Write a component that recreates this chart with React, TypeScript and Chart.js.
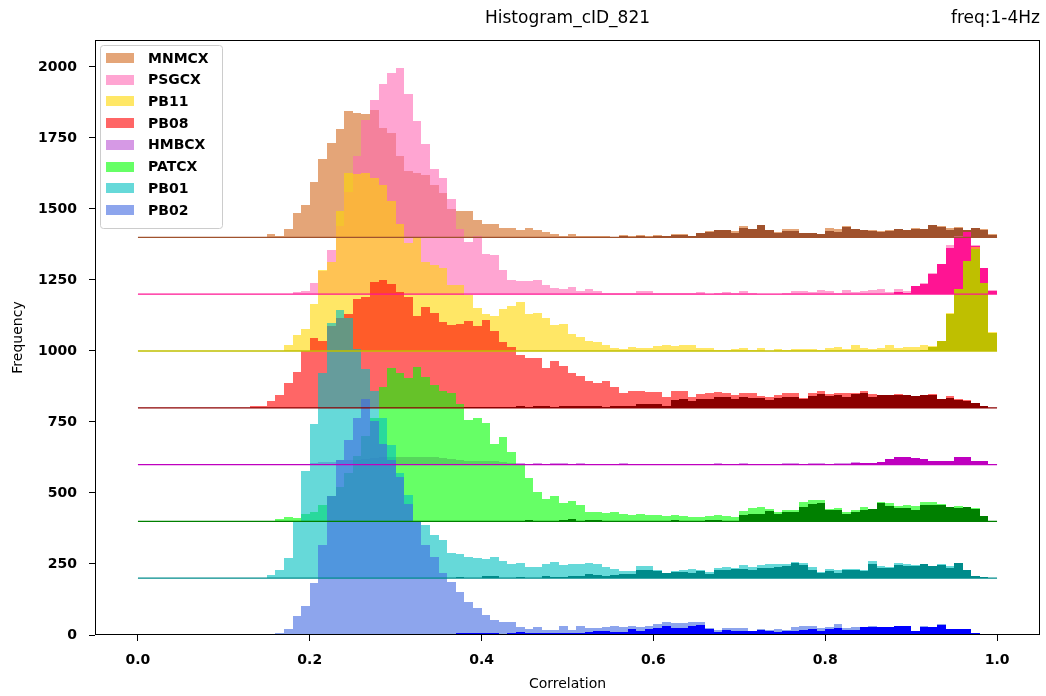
import React, { useEffect, useRef } from "react";
import { Chart, registerables } from "chart.js";

Chart.register(...registerables);

const TITLE = "Histogram_cID_821";
const SUBTITLE = "freq:1-4Hz";
const X_LABEL = "Correlation";
const Y_LABEL = "Frequency";
const BIN_WIDTH = 0.01;
const X_TICKS = [0, 0.2, 0.4, 0.6, 0.8, 1.0];
const Y_TICKS = [0, 250, 500, 750, 1000, 1250, 1500, 1750, 2000];

const NAMES = ["MNMCX", "PSGCX", "PB11", "PB08", "HMBCX", "PATCX", "PB01", "PB02"];
const OFFSETS = [1400, 1200, 1000, 800, 600, 400, 200, 0];
const LIGHT_COLORS = [
  "rgba(210,105,30,0.6)",
  "rgba(255,105,180,0.6)",
  "rgba(255,215,0,0.6)",
  "rgba(255,0,0,0.6)",
  "rgba(186,85,211,0.6)",
  "rgba(0,255,0,0.6)",
  "rgba(0,191,191,0.6)",
  "rgba(65,105,225,0.6)",
];
const DARK_COLORS = ["#a0522d", "#ff1493", "#bfbf00", "#8b0000", "#bf00bf", "#008000", "#008b8b", "#0000ff"];

// counts per 0.01 bin (0.00 .. 0.99)
const MNMCX_LIGHT = [
  0, 0, 0, 0, 0, 0, 0, 0, 0, 0,
  0, 0, 0, 0, 0, 12, 5, 29, 86, 114,
  195, 276, 332, 381, 445, 438, 434, 450, 385, 367,
  286, 234, 228, 219, 184, 156, 100, 93, 93, 61,
  47, 47, 33, 33, 26, 33, 26, 19, 12, 5,
  12, 5, 5, 5, 5, 0, 8, 5, 8, 5,
  8, 6, 13, 12, 6, 15, 22, 26, 26, 22,
  40, 29, 43, 26, 19, 29, 29, 16, 15, 12,
  33, 29, 40, 29, 26, 26, 22, 26, 29, 26,
  33, 29, 43, 40, 33, 36, 26, 33, 29, 12,
];
const MNMCX_DARK = [
  0, 0, 0, 0, 0, 0, 0, 0, 0, 0,
  0, 0, 0, 0, 0, 0, 0, 0, 0, 0,
  0, 0, 0, 0, 0, 0, 0, 0, 0, 0,
  0, 0, 0, 0, 0, 0, 0, 0, 0, 0,
  0, 0, 0, 0, 0, 0, 0, 0, 0, 0,
  0, 0, 0, 0, 0, 0, 5, 3, 5, 2,
  5, 6, 9, 10, 6, 15, 20, 26, 26, 16,
  33, 29, 42, 26, 16, 21, 21, 16, 15, 12,
  23, 20, 38, 28, 26, 23, 20, 23, 29, 26,
  28, 29, 43, 38, 26, 33, 26, 33, 26, 9,
];
const PSGCX_LIGHT = [
  0, 0, 0, 0, 0, 0, 0, 0, 0, 0,
  0, 0, 0, 0, 0, 0, 0, 0, 7, 12,
  39, 80, 155, 241, 360, 486, 613, 684, 740, 779,
  796, 705, 610, 529, 441, 409, 335, 230, 184, 205,
  141, 139, 86, 50, 47, 47, 50, 33, 22, 19,
  26, 12, 19, 12, 5, 5, 5, 5, 12, 11,
  4, 4, 4, 4, 4, 8, 0, 4, 8, 4,
  11, 4, 0, 0, 0, 4, 11, 11, 8, 15,
  11, 4, 15, 8, 11, 15, 18, 8, 18, 11,
  29, 39, 75, 106, 173, 205, 219, 173, 92, 15,
];
const PSGCX_DARK = [
  0, 0, 0, 0, 0, 0, 0, 0, 0, 0,
  0, 0, 0, 0, 0, 0, 0, 0, 0, 0,
  0, 0, 0, 0, 0, 0, 0, 0, 0, 0,
  0, 0, 0, 0, 0, 0, 0, 0, 0, 0,
  0, 0, 0, 0, 0, 0, 0, 0, 0, 0,
  0, 0, 0, 0, 0, 0, 0, 0, 0, 0,
  0, 0, 0, 0, 0, 0, 0, 0, 0, 0,
  0, 0, 0, 0, 0, 0, 0, 0, 0, 0,
  0, 0, 0, 0, 0, 0, 0, 0, 8, 4,
  29, 36, 71, 106, 163, 201, 219, 170, 92, 11,
];
const PB11_LIGHT = [
  0, 0, 0, 0, 0, 0, 0, 0, 0, 0,
  0, 0, 0, 0, 0, 0, 0, 21, 56, 77,
  166, 285, 314, 493, 626, 622, 626, 609, 584, 528,
  447, 380, 400, 314, 303, 292, 232, 232, 197, 151,
  130, 123, 148, 158, 172, 130, 134, 116, 92, 95,
  60, 49, 35, 32, 21, 11, 7, 14, 11, 11,
  18, 21, 18, 21, 21, 11, 11, 4, 4, 7,
  11, 4, 11, 0, 7, 4, 7, 7, 7, 4,
  11, 14, 7, 21, 11, 7, 11, 21, 11, 14,
  14, 21, 18, 35, 133, 218, 317, 367, 240, 66,
];
const PB11_DARK = [
  0, 0, 0, 0, 0, 0, 0, 0, 0, 0,
  0, 0, 0, 0, 0, 0, 0, 0, 0, 0,
  0, 0, 0, 0, 0, 0, 0, 0, 0, 0,
  0, 0, 0, 0, 0, 0, 0, 0, 0, 0,
  0, 0, 0, 0, 0, 0, 0, 0, 0, 0,
  0, 0, 0, 0, 0, 0, 0, 0, 0, 0,
  0, 0, 0, 0, 0, 0, 0, 0, 0, 0,
  0, 0, 0, 0, 0, 0, 0, 0, 0, 0,
  0, 0, 0, 0, 0, 0, 0, 0, 0, 0,
  0, 4, 14, 35, 131, 218, 317, 360, 240, 63,
];
const PB08_LIGHT = [
  0, 0, 0, 0, 0, 0, 0, 0, 0, 0,
  0, 0, 0, 6, 6, 23, 45, 87, 126, 200,
  245, 235, 288, 315, 330, 383, 390, 442, 450, 436,
  408, 390, 323, 355, 333, 302, 291, 295, 305, 288,
  309, 270, 231, 214, 185, 175, 175, 140, 164, 147,
  122, 112, 94, 87, 94, 73, 52, 59, 59, 55,
  55, 38, 59, 59, 38, 48, 52, 55, 52, 45,
  52, 52, 41, 38, 45, 52, 52, 34, 52, 59,
  48, 52, 52, 52, 59, 48, 45, 45, 48, 45,
  41, 45, 48, 31, 41, 31, 27, 16, 6, 1,
];
const PB08_DARK = [
  0, 0, 0, 0, 0, 0, 0, 0, 0, 0,
  0, 0, 0, 0, 0, 0, 0, 0, 0, 0,
  0, 0, 0, 0, 0, 0, 0, 0, 0, 0,
  0, 0, 0, 0, 0, 0, 0, 0, 3, 3,
  3, 3, 3, 3, 5, 3, 5, 8, 3, 5,
  8, 5, 5, 5, 3, 5, 5, 8, 12, 13,
  13, 6, 27, 31, 23, 31, 31, 38, 38, 31,
  38, 34, 34, 27, 34, 38, 38, 31, 41, 48,
  41, 45, 38, 48, 52, 38, 45, 45, 45, 45,
  41, 45, 45, 31, 34, 28, 23, 16, 6, 1,
];
const HMBCX_LIGHT = [
  0, 0, 0, 0, 0, 0, 0, 0, 0, 0,
  0, 0, 0, 0, 0, 0, 0, 0, 0, 0,
  5, 8, 10, 15, 17, 17, 20, 22, 25, 28,
  28, 27, 28, 28, 26, 22, 18, 15, 13, 13,
  12, 12, 10, 6, 4, 2, 4, 2, 4, 4,
  2, 4, 2, 2, 2, 2, 4, 2, 2, 2,
  2, 0, 2, 2, 0, 2, 0, 4, 0, 2,
  4, 2, 0, 2, 0, 4, 4, 2, 4, 7,
  2, 4, 5, 9, 6, 6, 9, 20, 27, 27,
  23, 20, 13, 13, 13, 27, 27, 13, 13, 2,
];
const HMBCX_DARK = [
  0, 0, 0, 0, 0, 0, 0, 0, 0, 0,
  0, 0, 0, 0, 0, 0, 0, 0, 0, 0,
  0, 0, 0, 0, 0, 0, 0, 0, 0, 0,
  0, 0, 0, 0, 0, 0, 0, 0, 0, 0,
  0, 0, 0, 0, 0, 0, 0, 0, 0, 0,
  0, 0, 0, 0, 0, 0, 0, 0, 0, 0,
  0, 0, 0, 0, 0, 0, 0, 0, 0, 0,
  0, 0, 0, 0, 0, 0, 0, 2, 0, 2,
  2, 0, 0, 5, 4, 6, 9, 20, 27, 27,
  23, 20, 13, 13, 13, 27, 27, 13, 13, 2,
];
const PATCX_LIGHT = [
  0, 0, 0, 0, 0, 0, 0, 0, 0, 0,
  0, 0, 0, 0, 0, 0, 8, 15, 12, 26,
  33, 58, 89, 120, 170, 230, 300, 364, 473, 540,
  522, 505, 544, 509, 480, 459, 452, 413, 357, 364,
  346, 272, 297, 244, 198, 153, 103, 79, 89, 65,
  72, 58, 33, 33, 29, 33, 26, 22, 26, 22,
  22, 19, 22, 19, 15, 15, 19, 22, 19, 15,
  36, 47, 50, 43, 33, 40, 40, 68, 75, 75,
  43, 47, 33, 40, 50, 43, 68, 65, 54, 57,
  54, 68, 68, 61, 50, 54, 50, 47, 19, 1,
];
const PATCX_DARK = [
  0, 0, 0, 0, 0, 0, 0, 0, 0, 0,
  0, 0, 0, 0, 0, 0, 0, 0, 0, 0,
  0, 0, 0, 0, 0, 0, 0, 0, 0, 0,
  0, 0, 0, 0, 0, 0, 0, 0, 0, 0,
  0, 0, 0, 0, 0, 5, 0, 0, 0, 5,
  8, 0, 5, 5, 0, 0, 0, 0, 0, 0,
  0, 0, 5, 0, 0, 0, 4, 5, 3, 3,
  22, 26, 26, 36, 26, 33, 33, 50, 61, 65,
  40, 40, 26, 33, 40, 43, 65, 54, 47, 47,
  40, 57, 57, 57, 50, 47, 50, 43, 19, 1,
];
const PB01_LIGHT = [
  0, 0, 0, 0, 0, 0, 0, 0, 0, 0,
  0, 0, 0, 0, 0, 12, 29, 72, 197, 378,
  543, 723, 900, 944, 915, 807, 738, 659, 565, 470,
  370, 293, 200, 188, 153, 135, 89, 86, 75, 72,
  68, 75, 61, 50, 54, 40, 40, 50, 58, 47,
  50, 50, 54, 50, 40, 33, 26, 26, 43, 43,
  29, 18, 26, 29, 33, 29, 22, 36, 40, 36,
  47, 40, 47, 50, 50, 50, 58, 54, 40, 22,
  33, 29, 33, 33, 29, 61, 43, 40, 54, 50,
  47, 50, 43, 50, 43, 54, 29, 8, 5, 1,
];
const PB01_DARK = [
  0, 0, 0, 0, 0, 0, 0, 0, 0, 0,
  0, 0, 0, 0, 0, 0, 0, 0, 0, 0,
  0, 0, 0, 0, 0, 0, 0, 0, 0, 0,
  0, 0, 0, 0, 0, 0, 0, 5, 0, 0,
  8, 8, 0, 0, 5, 0, 0, 8, 4, 4,
  8, 8, 15, 12, 8, 12, 15, 15, 29, 29,
  27, 18, 21, 23, 20, 26, 16, 29, 29, 33,
  33, 29, 36, 36, 40, 43, 54, 47, 29, 19,
  26, 19, 29, 29, 27, 50, 36, 36, 47, 43,
  43, 50, 43, 47, 36, 54, 29, 8, 5, 1,
];
const PB02_LIGHT = [
  0, 0, 0, 0, 0, 0, 0, 0, 0, 0,
  0, 0, 0, 0, 0, 0, 7, 21, 67, 102,
  183, 317, 490, 616, 687, 764, 831, 753, 672, 616,
  556, 461, 401, 317, 275, 219, 187, 151, 116, 95,
  70, 53, 46, 46, 28, 21, 28, 18, 18, 32,
  18, 32, 25, 25, 28, 32, 28, 32, 28, 32,
  39, 46, 42, 42, 46, 46, 25, 18, 25, 25,
  25, 14, 21, 18, 21, 18, 28, 32, 32, 25,
  28, 39, 25, 28, 28, 32, 28, 27, 32, 32,
  14, 32, 28, 39, 21, 21, 21, 7, 2, 1,
];
const PB02_DARK = [
  0, 0, 0, 0, 0, 0, 0, 0, 0, 0,
  0, 0, 0, 0, 0, 0, 0, 0, 0, 0,
  0, 0, 0, 0, 0, 0, 0, 0, 0, 0,
  0, 0, 0, 3, 0, 0, 0, 7, 7, 7,
  7, 7, 4, 7, 11, 7, 7, 7, 7, 7,
  7, 7, 11, 14, 14, 11, 11, 21, 14, 21,
  25, 32, 25, 25, 32, 35, 21, 11, 18, 14,
  14, 14, 18, 14, 12, 14, 14, 18, 21, 14,
  21, 25, 18, 18, 27, 27, 27, 27, 32, 32,
  14, 28, 28, 35, 21, 21, 21, 7, 2, 1,
];

const LIGHT_DATA = [MNMCX_LIGHT, PSGCX_LIGHT, PB11_LIGHT, PB08_LIGHT, HMBCX_LIGHT, PATCX_LIGHT, PB01_LIGHT, PB02_LIGHT];
const DARK_DATA = [MNMCX_DARK, PSGCX_DARK, PB11_DARK, PB08_DARK, HMBCX_DARK, PATCX_DARK, PB01_DARK, PB02_DARK];

function toBars(values: number[], offset: number) {
  return values
    .map((v, i) => ({ x: (i + 0.5) * BIN_WIDTH, y: [offset, offset + v], bin: i }))
    .filter((d) => d.y[1] > d.y[0]);
}

const FONT = '"DejaVu Sans", sans-serif';

// snap the library-computed bar rectangles to whole pixels (shared bin edges) so adjacent bins join without seams
const snapPlugin = {
  id: "snapBars",
  beforeDatasetsDraw(chart: any) {
    const xs = chart.scales.x;
    chart.data.datasets.forEach((ds: any, i: number) => {
      if (ds.type !== "bar") return;
      const meta = chart.getDatasetMeta(i);
      meta.data.forEach((el: any, j: number) => {
        const k = ds.data[j].bin;
        const l = Math.round(xs.getPixelForValue(k * BIN_WIDTH));
        const r = Math.round(xs.getPixelForValue((k + 1) * BIN_WIDTH));
        el.x = (l + r) / 2;
        el.width = r - l;
        el.y = Math.round(el.y);
        el.base = Math.round(el.base);
      });
    });
  },
};

const decorPlugin = {
  id: "decor",
  afterDatasetsDraw(chart: any) {
    const { ctx, chartArea: a } = chart;
    ctx.save();
    ctx.strokeStyle = "#000";
    ctx.lineWidth = 1;
    ctx.strokeRect(Math.round(a.left) + 0.5, Math.round(a.top) + 0.5, Math.round(a.right - a.left) - 1, Math.round(a.bottom - a.top) - 1);
    ctx.restore();
  },
  afterDraw(chart: any) {
    const { ctx, chartArea: a } = chart;
    ctx.save();
    ctx.fillStyle = "#000";
    ctx.textBaseline = "middle";
    ctx.font = `17px ${FONT}`;
    ctx.textAlign = "center";
    ctx.fillText(TITLE, (a.left + a.right) / 2, 19);
    ctx.textAlign = "right";
    ctx.fillText(SUBTITLE, a.right, 19);

    ctx.font = `14px ${FONT}`;
    ctx.textAlign = "center";
    ctx.fillText(X_LABEL, (a.left + a.right) / 2, 684);
    ctx.save();
    ctx.translate(18, (a.top + a.bottom) / 2);
    ctx.rotate(-Math.PI / 2);
    ctx.fillText(Y_LABEL, 0, 0);
    ctx.restore();

    // legend
    const lx = a.left + 5;
    const ly = a.top + 5;
    const lw = 122;
    const lh = 183;
    ctx.beginPath();
    if (ctx.roundRect) ctx.roundRect(lx + 0.5, ly + 0.5, lw, lh, 3);
    else ctx.rect(lx + 0.5, ly + 0.5, lw, lh);
    ctx.fillStyle = "rgba(255,255,255,0.8)";
    ctx.fill();
    ctx.strokeStyle = "#cccccc";
    ctx.lineWidth = 1;
    ctx.stroke();
    ctx.font = `bold 14px ${FONT}`;
    ctx.textAlign = "left";
    NAMES.forEach((name, i) => {
      const cy = ly + 13 + i * 21.7;
      ctx.fillStyle = LIGHT_COLORS[i];
      ctx.fillRect(lx + 6, Math.round(cy - 5), 28, 10);
      ctx.fillStyle = "#000";
      ctx.fillText(name, lx + 48, cy + 1);
    });
    ctx.restore();
  },
};

export default function App() {
  const ref = useRef<HTMLCanvasElement | null>(null);
  useEffect(() => {
    if (!ref.current) return;
    const datasets: any[] = [];
    let order = 1000;
    NAMES.forEach((name, i) => {
      datasets.push({
        type: "bar",
        label: name,
        data: toBars(LIGHT_DATA[i], OFFSETS[i]),
        backgroundColor: LIGHT_COLORS[i],
        borderWidth: 0,
        inflateAmount: 0,
        barPercentage: 1,
        categoryPercentage: 1,
        grouped: false,
        order: order--,
      });
      datasets.push({
        type: "bar",
        label: name + " dark",
        data: toBars(DARK_DATA[i], OFFSETS[i]),
        backgroundColor: DARK_COLORS[i],
        borderWidth: 0,
        inflateAmount: 0,
        barPercentage: 1,
        categoryPercentage: 1,
        grouped: false,
        order: order--,
      });
    });
    NAMES.forEach((name, i) => {
      datasets.push({
        type: "line",
        label: name + " base",
        data: [
          { x: 0, y: OFFSETS[i] },
          { x: 1, y: OFFSETS[i] },
        ],
        borderColor: DARK_COLORS[i],
        borderWidth: 1.3,
        pointRadius: 0,
        order: order--,
      });
    });

    const chart = new Chart(ref.current, {
      type: "bar",
      data: { datasets },
      plugins: [snapPlugin, decorPlugin],
      options: {
        animation: false,
        responsive: false,
        maintainAspectRatio: false,
        devicePixelRatio: 1,
        events: [],
        layout: { padding: { top: 40, right: 6, left: 0, bottom: 0 } },
        plugins: { legend: { display: false }, tooltip: { enabled: false }, title: { display: false } },
        scales: {
          x: {
            type: "linear",
            min: -0.05,
            max: 1.05,
            offset: false,
            grid: { display: true, offset: false, drawOnChartArea: false, drawTicks: true, tickLength: 6, color: "#000" },
            border: { display: false },
            afterBuildTicks: (s: any) => {
              s.ticks = X_TICKS.map((v) => ({ value: v }));
            },
            afterFit: (s: any) => {
              s.height = 61;
            },
            ticks: {
              color: "#000",
              font: { family: FONT, size: 14, weight: "bold" },
              padding: 11,
              maxRotation: 0,
              autoSkip: false,
              callback: (v: any) => Number(v).toFixed(1),
            },
          },
          y: {
            type: "linear",
            min: 0,
            max: 2095,
            grid: { display: true, drawOnChartArea: false, drawTicks: true, tickLength: 6, color: "#000" },
            border: { display: false },
            afterBuildTicks: (s: any) => {
              s.ticks = Y_TICKS.map((v) => ({ value: v }));
            },
            afterFit: (s: any) => {
              s.width = 95;
            },
            ticks: {
              color: "#000",
              font: { family: FONT, size: 14, weight: "bold" },
              padding: 12,
              autoSkip: false,
              callback: (v: any) => String(v),
            },
          },
        },
      } as any,
    });
    return () => chart.destroy();
  }, []);

  return (
    <div style={{ position: "fixed", left: 0, top: 0, width: 1046, height: 696, background: "#fff" }}>
      <canvas ref={ref} width={1046} height={696} style={{ width: 1046, height: 696, display: "block" }} />
    </div>
  );
}
